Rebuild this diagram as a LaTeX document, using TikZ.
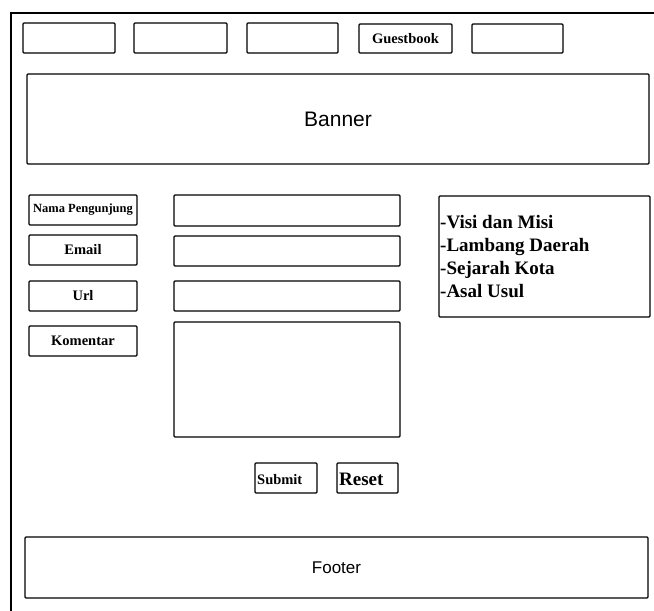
\documentclass[tikz,border=0pt]{standalone}
\usepackage{fontspec}
\setmainfont{Liberation Serif}
\newfontfamily\sansf{Liberation Sans}
\begin{document}
\begin{tikzpicture}[x=1pt,y=-1pt,
  box/.style={draw, line width=1.3pt, rounded corners=1pt, rectangle, inner sep=0pt},
  lbl/.style={font=\fontsize{14.5}{16}\selectfont\bfseries},
  menuitem/.style={anchor=base west, inner sep=0pt, font=\fontsize{19}{23}\selectfont\bfseries},
  bigtxt/.style={font=\fontsize{21}{24}\selectfont\sansf}]
\useasboundingbox (0,0) rectangle (654,611);
% page frame: only the top and left edges are visible
\draw[line width=1.3pt] (11,611) -- (11,13) -- (654,13);

% navigation bar
\node[box, minimum width=92pt, minimum height=30pt] (nav1) at (69,38) {};
\node[box, minimum width=93pt, minimum height=30pt] (nav2) at (180.5,38) {};
\node[box, minimum width=91pt, minimum height=30pt] (nav3) at (292.5,38) {};
\node[box, minimum width=93pt, minimum height=29pt, lbl] (nav4) at (405.5,38.5) {Guestbook};
\node[box, minimum width=91pt, minimum height=29pt] (nav5) at (517.5,38.5) {};

% banner
\node[box, minimum width=622pt, minimum height=90pt, bigtxt] (banner) at (338,119) {Banner};

% form labels
\node[box, minimum width=108pt, minimum height=30pt, font=\fontsize{12.5}{14}\selectfont\bfseries] (lname) at (83,210) {Nama Pengunjung};
\node[box, minimum width=108pt, minimum height=30pt, lbl] (lmail) at (83,250) {Email};
\node[box, minimum width=108pt, minimum height=30pt, lbl] (lurl) at (83,296) {Url};
\node[box, minimum width=108pt, minimum height=30pt, lbl] (lkom) at (83,341) {Komentar};

% form inputs
\node[box, minimum width=226pt, minimum height=31pt] (iname) at (287,210.5) {};
\node[box, minimum width=226pt, minimum height=30pt] (imail) at (287,251) {};
\node[box, minimum width=226pt, minimum height=30pt] (iurl) at (287,296) {};
\node[box, minimum width=226pt, minimum height=115pt] (ikom) at (287,379.5) {};

% side menu
\node[box, minimum width=211pt, minimum height=121pt] (menu) at (544.5,256.5) {};
\node[menuitem] (m1) at (440,228) {-Visi dan Misi};
\node[menuitem] (m2) at (440,251) {-Lambang Daerah};
\node[menuitem] (m3) at (440,274) {-Sejarah Kota};
\node[menuitem] (m4) at (440,297) {-Asal Usul};

% buttons
\node[box, minimum width=62pt, minimum height=30pt] (submit) at (286,478) {};
\node[anchor=base west, inner sep=0pt, font=\fontsize{14.5}{16}\selectfont\bfseries] (tsubmit) at (257,484) {Submit};
\node[box, minimum width=61pt, minimum height=30pt] (reset) at (367.5,478) {};
\node[anchor=base west, inner sep=0pt, font=\fontsize{19}{20}\selectfont\bfseries] (treset) at (339,485) {Reset};

% footer
\node[box, minimum width=623pt, minimum height=61pt, font=\fontsize{17}{20}\selectfont\sansf] (footer) at (336.5,567.5) {Footer};
\end{tikzpicture}
\end{document}
